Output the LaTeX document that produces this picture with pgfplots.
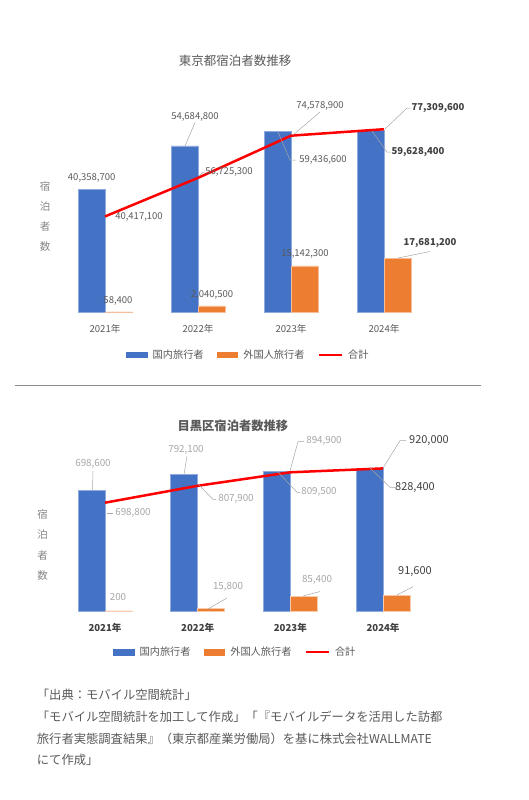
\documentclass[border=0pt]{standalone}
\usepackage{pgfplots}
\usepackage{pgfplotstable}
\pgfplotsset{compat=1.18}
\usepackage{fontspec}
\setmainfont{Noto Sans CJK JP}

\definecolor{dom}{HTML}{4472C4}
\definecolor{intl}{HTML}{ED7D31}
\definecolor{txt}{HTML}{595959}
\definecolor{lt}{HTML}{A6A6A6}
\definecolor{dk}{HTML}{404040}
\definecolor{lead}{HTML}{A6A6A6}

% Tokyo: domestic, foreign, total
\pgfplotstableread{
x dom intl total
0 40358700 58400 40417100
1 54684800 2040500 56725300
2 59436600 15142300 74578900
3 59628400 17681200 77309600
}\tokyo

% Meguro
\pgfplotstableread{
x dom intl total
0 698600 200 698800
1 792100 15800 807900
2 809500 85400 894900
3 828400 91600 920000
}\meguro

\pgfplotsset{
  base/.style={scale only axis, anchor=south west,
    xmin=-0.5, xmax=3.5, ymin=0,
    axis line style={draw=none}, tick style={draw=none},
    ytick=\empty},
  bars/.style={base, ybar=0pt, bar width=27pt,
    xtick={0,1,2,3},
    xticklabels={2021年,2022年,2023年,2024年},
    xticklabel style={anchor=center, yshift=-12.5pt}},
  over/.style={base, xtick=\empty,
    every axis title shift=0pt,
    legend cell align=left,
    legend style={draw=none, fill=none, inner sep=0pt, anchor=center,
      text=txt, font=\fontsize{10.2}{12}\selectfont, legend columns=3,
      /tikz/every odd column/.append style={column sep=3pt},
      /tikz/every even column/.append style={column sep=11pt}}},
  box/.style={legend image code/.code={\fill[##1, draw=none] (0pt,-3.3pt) rectangle (21.7pt,3.3pt);}},
  ln/.style={legend image code/.code={\draw[##1] (0pt,0pt) -- (23pt,0pt);}},
}

\begin{document}
\begin{tikzpicture}
\path[use as bounding box] (0pt,0pt) rectangle (528pt,-800pt);

% ---------- Tokyo ----------
\begin{axis}[bars, at={(58.5pt,-312pt)}, width=372pt, height=212.8pt,
  ymax=70000000,
  xticklabel style={text=txt, font=\fontsize{9.6}{11}\selectfont}]
\addplot[fill=dom, draw=dom!60!white, line width=0.5pt] table[x=x,y=dom]{\tokyo};
\addplot[fill=intl, draw=intl!50!white, line width=0.5pt] table[x=x,y=intl]{\tokyo};
\end{axis}
\begin{axis}[over, at={(58.5pt,-312pt)}, width=372pt, height=212.8pt,
  ymax=90000000,
  title={東京都宿泊者数推移},
  title style={at={(axis description cs:0.4745,1.1795)}, anchor=center,
    text=txt, font=\fontsize{12.5}{14}\selectfont},
  ylabel={宿\\泊\\者\\数},
  every axis y label/.style={at={(axis description cs:-0.036,0.448)},
    anchor=center, align=center, text=lt!80!black,
    font=\fontsize{10.5}{20}\selectfont},
  legend style={at={(axis description cs:0.51,-0.202)}}]
\addlegendimage{box, fill=dom}
\addlegendentry{国内旅行者}
\addlegendimage{box, fill=intl}
\addlegendentry{外国人旅行者}
\addplot[ln, red, line width=2.5pt] table[x=x,y=total]{\tokyo};
\addlegendentry{合計}
\end{axis}

% ---------- Meguro ----------
\begin{axis}[bars, at={(58.7pt,-611pt)}, width=370.7pt, height=155pt,
  ymax=900000,
  xticklabel style={text=dk, font=\bfseries\fontsize{9.6}{11}\selectfont}]
\addplot[fill=dom, draw=dom!60!white, line width=0.5pt] table[x=x,y=dom]{\meguro};
\addplot[fill=intl, draw=intl!40!white, line width=0.7pt] table[x=x,y=intl]{\meguro};
\end{axis}
\begin{axis}[over, at={(58.7pt,-611pt)}, width=370.7pt, height=155pt,
  ymax=1000000,
  title={目黒区宿泊者数推移},
  title style={at={(axis description cs:0.470,1.1935)}, anchor=center,
    text=txt, font=\bfseries\fontsize{12.3}{14}\selectfont},
  ylabel={宿\\泊\\者\\数},
  every axis y label/.style={at={(axis description cs:-0.0432,0.425)},
    anchor=center, align=center, text=lt!80!black,
    font=\fontsize{10.5}{20.3}\selectfont},
  legend style={at={(axis description cs:0.476,-0.266)}}]
\addlegendimage{box, fill=dom}
\addlegendentry{国内旅行者}
\addlegendimage{box, fill=intl}
\addlegendentry{外国人旅行者}
\addplot[ln, red, line width=2.5pt] table[x=x,y=total]{\meguro};
\addlegendentry{合計}
\end{axis}

% ---------- data labels, leader lines, rule, note ----------
\begin{scope}[x=1pt, y=-1pt]
\begin{scope}[every node/.style={text=txt, font=\fontsize{9.5}{11}\selectfont, inner sep=0pt},
  lead, line width=0.5pt]
\node at (91.7,177.7) {40,358,700};
\draw (185,146) -- (195,122.5);
\node at (195,116.7) {54,684,800};
\draw (293,135) -- (320,112);
\node at (320,106) {74,578,900};
\draw (385,129) -- (407,108) -- (411,108);
\node[text=dk] at (438,107.7) {\bfseries 77,309,600};
\draw (372,131) -- (387,152) -- (391,152);
\node[text=dk] at (418,151.7) {\bfseries 59,628,400};
\draw (278,132) -- (290,160) -- (296,160);
\node at (323,160) {59,436,600};
\draw (199,176) -- (203,172) -- (205,172);
\node at (229,172) {56,725,300};
\node at (139,216.7) {40,417,100};
\node at (118,300.7) {58,400};
\node at (212,295) {2,040,500};
\node at (305,254.3) {15,142,300};
\draw (398,258) -- (430,251.5);
\node[text=dk] at (430,243.3) {\bfseries 17,681,200};
\end{scope}

\begin{scope}[every node/.style={text=lt, font=\fontsize{9.8}{11}\selectfont, inner sep=0pt},
  lead, line width=0.5pt]
\draw (92.5,490) -- (93,471);
\node at (93,464.3) {698,600};
\draw (184,474.7) -- (187,456);
\node at (186,450) {792,100};
\draw (290,471) -- (298,441.5) -- (304,441.5);
\node at (324,441) {894,900};
\draw (383,468) -- (400,440.7) -- (406,440.7);
\node[text=dk, font=\fontsize{11}{13}\selectfont] at (429,440.7) {920,000};
\draw (370,468) -- (390,487.3) -- (395,487.3);
\node[text=dk, font=\fontsize{11}{13}\selectfont] at (415,487.3) {828,400};
\draw (277,471) -- (297,492.3) -- (300,492.3);
\node at (319,492.3) {809,500};
\draw (199,485) -- (213,499.3) -- (216,499.3);
\node at (236,499.3) {807,900};
\draw (107,513) -- (113,513);
\node at (133,512.7) {698,800};
\node at (118,596.7) {200};
\draw (208,609) -- (227,598);
\node at (228,586.7) {15,800};
\draw (303,596) -- (320,591.5);
\node at (317,580) {85,400};
\draw (397,595) -- (413,586.7);
\node[text=dk, font=\fontsize{11}{13}\selectfont] at (415,571.7) {91,600};
\end{scope}

\draw[black!45, line width=0.8pt] (15,385.7) -- (481,385.7);

\begin{scope}[every node/.style={text=txt, font=\fontsize{12.3}{14}\selectfont,
  inner sep=0pt, anchor=base west}]
\node at (36.7,699.5) {「出典：モバイル空間統計」};
\node at (36.7,721.2) {「モバイル空間統計を加工して作成」「『モバイルデータを活用した訪都};
\node at (36.7,743.8) {旅行者実態調査結果』（東京都産業労働局）を基に株式会社WALLMATE};
\node at (36.7,764.5) {にて作成」};
\end{scope}
\end{scope}
\end{tikzpicture}
\end{document}
